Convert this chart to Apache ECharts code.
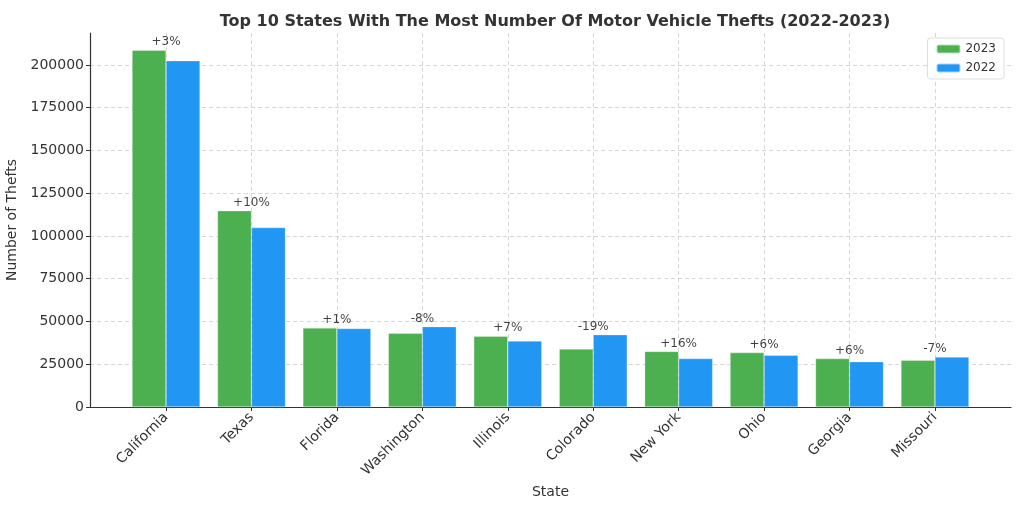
<!DOCTYPE html>
<html>
<head>
<meta charset="utf-8">
<script src="https://cdn.jsdelivr.net/npm/echarts@6/dist/echarts.min.js"></script>
<style>
  html, body { margin: 0; padding: 0; background: #fff; }
  #chart { width: 1024px; height: 512px; }
</style>
</head>
<body>
<div id="chart"></div>
<script>
const states = ['California', 'Texas', 'Florida', 'Washington', 'Illinois', 'Colorado', 'New York', 'Ohio', 'Georgia', 'Missouri'];
const thefts2023 = [208600, 114800, 46200, 43100, 41300, 33900, 32500, 31800, 28300, 27300];
const thefts2022 = [202500, 104900, 45900, 47000, 38600, 42300, 28300, 30200, 26500, 29200];
const changeLabels = ['+3%', '+10%', '+1%', '-8%', '+7%', '-19%', '+16%', '+6%', '+6%', '-7%'];
const yTicks = [0, 25000, 50000, 75000, 100000, 125000, 150000, 175000, 200000];

const font = 'DejaVu Sans';
const textColor = '#333';
const statePos = states.map((s, i) => i);

const chart = echarts.init(document.getElementById('chart'));

const option = {
  animation: false,
  textStyle: { fontFamily: font },
  title: {
    text: 'Top 10 States With The Most Number Of Motor Vehicle Thefts (2022-2023)',
    left: 550,
    textAlign: 'center',
    top: 9,
    textStyle: { fontFamily: font, fontSize: 16, fontWeight: 'bold', color: textColor },
  },
  legend: {
    orient: 'vertical',
    right: 20,
    top: 38,
    itemWidth: 24,
    itemHeight: 9,
    itemGap: 7,
    padding: [5, 8, 5, 8],
    borderColor: '#ddd',
    borderWidth: 1,
    borderRadius: 3,
    backgroundColor: '#fff',
    textStyle: { fontFamily: font, fontSize: 12, color: textColor },
    data: ['2023', '2022'],
  },
  grid: { left: 90, right: 13, top: 33, bottom: 105, outerBoundsMode: 'none', containLabel: false },
  xAxis: {
    type: 'value',
    min: -0.89,
    max: 9.89,
    name: 'State',
    nameLocation: 'middle',
    nameGap: 78,
    nameTextStyle: { fontFamily: font, fontSize: 14, color: textColor },
    axisLine: { show: true, onZero: false, lineStyle: { color: '#333', width: 1.2 } },
    axisTick: { show: true, length: 4, customValues: statePos, lineStyle: { color: '#333' } },
    axisLabel: {
      rotate: 45,
      fontFamily: font,
      fontSize: 14,
      color: textColor,
      margin: 8,
      customValues: statePos,
      formatter: v => states[Math.round(v)],
    },
    splitLine: {
      show: true,
      lineStyle: { color: '#ccc', type: [4, 3], width: 0.8 },
    },
  },
  yAxis: {
    type: 'value',
    min: 0,
    max: 218700,
    interval: 25000,
    name: 'Number of Thefts',
    nameLocation: 'middle',
    nameGap: 64,
    nameTextStyle: { fontFamily: font, fontSize: 14, color: textColor },
    axisLine: { show: true, onZero: false, lineStyle: { color: '#333', width: 1.2 } },
    axisTick: { show: true, length: 4, lineStyle: { color: '#333' } },
    axisLabel: {
      fontFamily: font,
      fontSize: 14,
      color: textColor,
      margin: 6,
      showMaxLabel: false,
      formatter: v => (yTicks.includes(v) ? String(v) : ''),
    },
    splitLine: {
      show: true,
      showMaxLine: false,
      lineStyle: { color: '#ccc', type: [4, 3], width: 0.8 },
    },
  },
  series: [
    {
      name: '2023',
      type: 'bar',
      barWidth: 34,
      barGap: '0%',
      itemStyle: { color: '#4CAF50', borderColor: 'rgba(255,255,255,0.6)', borderWidth: 0.5 },
      data: thefts2023.map((v, i) => [i, v]),
    },
    {
      name: '2022',
      type: 'bar',
      barWidth: 34,
      barGap: '0%',
      itemStyle: { color: '#2196F3', borderColor: 'rgba(255,255,255,0.6)', borderWidth: 0.5 },
      data: thefts2022.map((v, i) => [i, v]),
    },
    {
      name: 'change',
      type: 'scatter',
      symbolSize: 0,
      silent: true,
      z: 5,
      label: {
        show: true,
        position: 'top',
        distance: 2,
        fontFamily: font,
        fontSize: 12,
        color: '#111',
        formatter: p => changeLabels[p.dataIndex],
      },
      data: thefts2023.map((v, i) => [i, Math.max(v, thefts2022[i])]),
    },
  ],
};

chart.setOption(option);
</script>
</body>
</html>
